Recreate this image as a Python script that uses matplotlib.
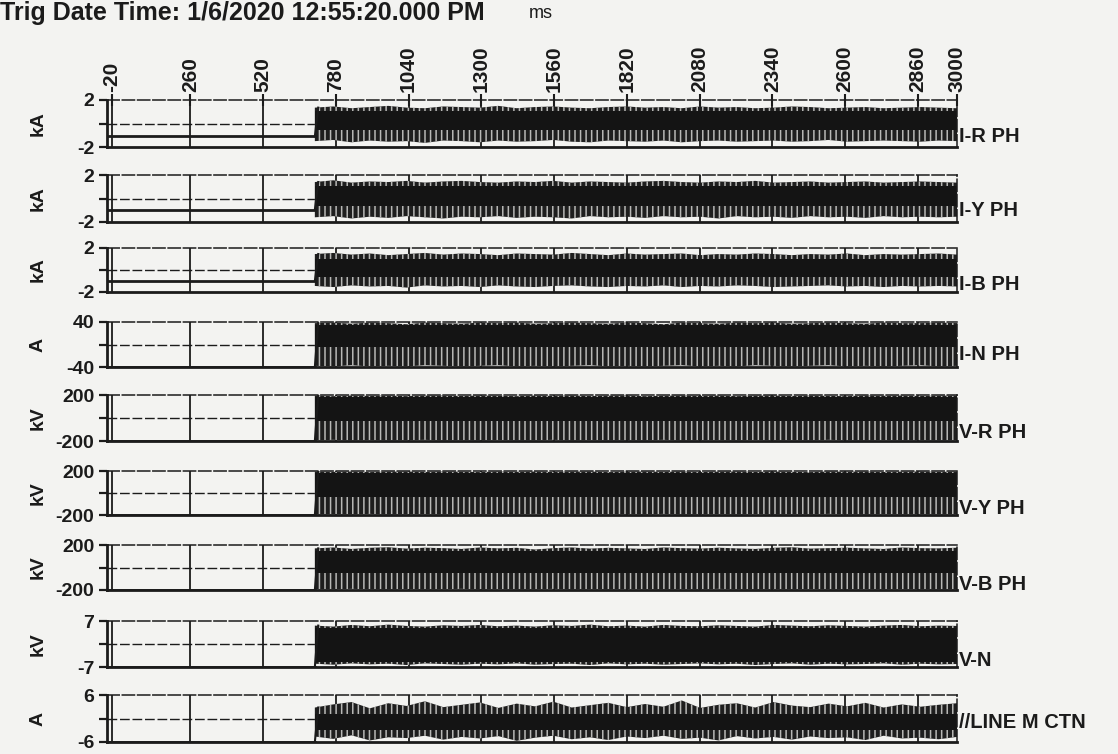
import matplotlib
matplotlib.use("Agg")
import matplotlib.pyplot as plt
import numpy as np

plt.rcParams["font.family"] = ["Liberation Sans", "DejaVu Sans"]
plt.rcParams["hatch.linewidth"] = 1.1

INK = "#1b1b1b"
PAPER = "#f3f3f1"

# time axis (ms)
TIME_TICKS = [-20, 260, 520, 780, 1040, 1300, 1560, 1820, 2080, 2340, 2600, 2860, 3000]
FAULT_START = 705

CHANNELS = ["I-R PH", "I-Y PH", "I-B PH", "I-N PH", "V-R PH", "V-Y PH", "V-B PH", "V-N", "//LINE M CTN"]
UNITS = ["kA", "kA", "kA", "A", "kV", "kV", "kV", "kV", "A"]
FULL_SCALE = [2, 2, 2, 40, 200, 200, 200, 7, 6]
BOTTOM_LABELS = ["-2", "-2", "-2", "-40", "-200", "-200", "-200", "-7", "-6"]
PRE_FAULT = [-1.1, -0.95, -1.0, -40, -200, -200, -200, -7, -6]

# dense core of the post-fault trace (solid black part)
CORE_HI = [1.05, 1.05, 1.0, 34, 180, 180, 150, 5.0, 1.1]
CORE_LO = [-0.55, -0.6, -0.6, -5, -30, -40, -45, -5.4, -3.0]

# envelope of the post-fault trace, read across the record
I_R_HI = [1.35, 1.45, 1.30, 1.40, 1.50, 1.35, 1.30, 1.45, 1.40, 1.35, 1.50, 1.30, 1.40, 1.45, 1.35, 1.30, 1.40, 1.45,
          1.35, 1.40, 1.30, 1.45, 1.35, 1.40, 1.30, 1.35, 1.45, 1.40, 1.30, 1.35, 1.40, 1.30, 1.35, 1.40, 1.35, 1.30]
I_R_LO = [-1.50, -1.40, -1.60, -1.45, -1.55, -1.50, -1.65, -1.45, -1.50, -1.60, -1.45, -1.55, -1.50, -1.40, -1.55,
          -1.60, -1.45, -1.50, -1.55, -1.45, -1.60, -1.50, -1.45, -1.55, -1.50, -1.45, -1.55, -1.50, -1.40, -1.55,
          -1.50, -1.45, -1.50, -1.55, -1.45, -1.50]
I_Y_HI = [1.40, 1.55, 1.35, 1.45, 1.40, 1.50, 1.35, 1.45, 1.50, 1.40, 1.35, 1.45, 1.40, 1.50, 1.35, 1.45, 1.40, 1.35,
          1.45, 1.50, 1.40, 1.35, 1.45, 1.40, 1.50, 1.35, 1.40, 1.45, 1.35, 1.40, 1.45, 1.35, 1.40, 1.45, 1.40, 1.35]
I_Y_LO = [-1.60, -1.50, -1.70, -1.55, -1.65, -1.50, -1.60, -1.70, -1.55, -1.60, -1.50, -1.65, -1.55, -1.60, -1.70,
          -1.50, -1.60, -1.55, -1.65, -1.50, -1.60, -1.55, -1.70, -1.50, -1.60, -1.55, -1.65, -1.50, -1.60, -1.55,
          -1.65, -1.50, -1.60, -1.55, -1.60, -1.55]
I_B_HI = [1.45, 1.55, 1.40, 1.50, 1.35, 1.45, 1.55, 1.40, 1.50, 1.45, 1.35, 1.50, 1.45, 1.40, 1.55, 1.45, 1.35, 1.50,
          1.40, 1.45, 1.50, 1.35, 1.45, 1.40, 1.50, 1.45, 1.35, 1.45, 1.40, 1.50, 1.35, 1.45, 1.40, 1.45, 1.50, 1.40]
I_B_LO = [-1.45, -1.55, -1.40, -1.50, -1.45, -1.60, -1.40, -1.50, -1.45, -1.55, -1.40, -1.50, -1.55, -1.45, -1.40,
          -1.50, -1.55, -1.45, -1.50, -1.40, -1.55, -1.45, -1.50, -1.40, -1.45, -1.55, -1.50, -1.45, -1.40, -1.50,
          -1.45, -1.55, -1.45, -1.50, -1.45, -1.50]
I_N_HI = [38, 39, 37, 39, 38, 36, 39, 38, 37, 39, 38, 39, 37, 38, 39, 38, 37, 39, 38, 36, 39, 38, 37, 39, 38, 39, 37,
          38, 39, 38, 37, 39, 38, 38, 39, 38]
I_N_LO = [-38, -39, -37, -39, -38, -39, -37, -38, -39, -38, -37, -39, -38, -39, -38, -37, -39, -38, -39, -38, -37, -39,
          -38, -39, -37, -38, -39, -38, -37, -39, -38, -39, -38, -37, -39, -38]
V_R_HI = [195, 190, 195, 192, 195, 190, 194, 195, 191, 195, 193, 190, 195, 192, 195, 191, 194, 195, 190, 193, 195, 192,
          195, 190, 194, 195, 191, 195, 192, 190, 195, 193, 195, 191, 194, 195]
V_R_LO = [-195, -190, -196, -192, -195, -194, -190, -196, -193, -195, -191, -195, -194, -190, -196, -192, -195, -193,
          -195, -190, -196, -194, -192, -195, -191, -196, -193, -195, -190, -194, -196, -192, -195, -193, -195, -194]
V_Y_HI = [195, 192, 195, 190, 194, 195, 191, 195, 193, 190, 195, 192, 195, 191, 194, 195, 190, 193, 195, 192, 195, 190,
          194, 195, 191, 195, 192, 190, 195, 193, 195, 191, 194, 195, 192, 195]
V_Y_LO = [-196, -193, -195, -190, -196, -194, -192, -195, -191, -196, -193, -195, -190, -194, -196, -192, -195, -193,
          -195, -190, -196, -194, -192, -195, -191, -196, -193, -195, -190, -194, -196, -192, -195, -193, -195, -194]
V_B_HI = [170, 178, 165, 175, 180, 168, 176, 172, 165, 178, 170, 175, 160, 172, 178, 168, 175, 170, 165, 178, 172, 168,
          176, 170, 165, 175, 180, 168, 172, 176, 170, 165, 178, 172, 170, 176]
V_B_LO = [-192, -195, -190, -194, -196, -191, -195, -193, -190, -196, -192, -195, -194, -190, -196, -193, -195, -191,
          -194, -196, -192, -195, -190, -194, -196, -193, -195, -191, -194, -196, -192, -195, -193, -194, -196, -195]
V_N_HI = [5.6, 5.3, 5.8, 5.4, 5.9, 5.5, 5.3, 5.7, 5.5, 5.8, 5.4, 5.6, 5.3, 5.7, 5.5, 5.9, 5.4, 5.6, 5.3, 5.8, 5.5, 5.4,
          5.7, 5.5, 5.3, 5.8, 5.6, 5.4, 5.7, 5.5, 5.3, 5.6, 5.8, 5.4, 5.6, 5.5]
V_N_LO = [-6.0, -6.3, -5.9, -6.2, -6.0, -6.4, -5.9, -6.1, -6.3, -6.0, -6.2, -5.9, -6.3, -6.1, -6.0, -6.4, -5.9, -6.2,
          -6.0, -6.3, -6.1, -5.9, -6.2, -6.0, -6.4, -6.1, -5.9, -6.3, -6.0, -6.2, -6.1, -5.9, -6.3, -6.0, -6.2, -6.1]
CTN_HI = [2.8, 3.6, 4.2, 2.6, 3.9, 3.2, 4.4, 2.9, 3.5, 4.1, 2.7, 3.8, 3.1, 4.3, 2.8, 3.4, 4.0, 2.9, 3.7, 3.0, 4.6, 2.7,
          3.5, 3.9, 2.8, 4.2, 3.3, 2.9, 3.8, 3.1, 4.0, 2.8, 3.6, 3.0, 3.5, 3.9]
CTN_LO = [-4.6, -5.2, -4.3, -5.6, -4.8, -5.0, -4.4, -5.4, -4.7, -5.1, -4.5, -5.7, -4.9, -4.4, -5.3, -4.8, -5.5, -4.6,
          -5.0, -4.4, -5.2, -4.9, -5.6, -4.5, -5.1, -4.7, -5.4, -4.6, -5.0, -4.8, -5.5, -4.4, -5.1, -4.9, -5.3, -4.7]

ENVELOPES = [(I_R_HI, I_R_LO), (I_Y_HI, I_Y_LO), (I_B_HI, I_B_LO), (I_N_HI, I_N_LO), (V_R_HI, V_R_LO),
             (V_Y_HI, V_Y_LO), (V_B_HI, V_B_LO), (V_N_HI, V_N_LO), (CTN_HI, CTN_LO)]

# panel frames in pixels (top, bottom) of the 1118x754 page
PANEL_PX = [(100, 147), (175, 222), (248, 292), (322, 367), (395, 441), (471, 515), (545, 590), (621, 667), (695, 742)]
LABEL_PX = [136, 211, 285, 355, 432, 509, 585, 661, 723]
W, H = 1118, 754
LEFT_PX, RIGHT_PX = 107, 957

fig = plt.figure(figsize=(W / 100, H / 100), dpi=100, facecolor=PAPER)

fig.text(0.0, 1 - 20 / H, "Trig Date Time: 1/6/2020 12:55:20.000 PM", fontsize=18, fontweight="bold",
         color=INK, va="baseline", ha="left")
fig.text(541 / W, 1 - 14 / H, "ms", fontsize=13, color=INK, ha="center", va="center")

x_left = -20 - 5 / ((RIGHT_PX - 112) / 3020)

for i, name in enumerate(CHANNELS):
    top, bot = PANEL_PX[i]
    ax = fig.add_axes([LEFT_PX / W, 1 - bot / H, (RIGHT_PX - LEFT_PX) / W, (bot - top) / H])
    ax.set_facecolor(PAPER)
    s = FULL_SCALE[i]
    ax.set_xlim(x_left, 3000)
    ax.set_ylim(-s, s)

    # grid
    ax.vlines(TIME_TICKS[:-1], -s, s, color=INK, linewidth=1.3, zorder=1)
    ax.axhline(0, color=INK, linewidth=1.0, linestyle=(0, (7, 2)), zorder=1)

    # pre-fault trace
    ax.plot([x_left, FAULT_START], [PRE_FAULT[i], PRE_FAULT[i]], color=INK, linewidth=2.0, zorder=3)

    # post-fault trace: streaky outer envelope plus solid core
    hi, lo = ENVELOPES[i]
    t = np.linspace(FAULT_START, 3000, len(hi))
    ax.fill_between(t, lo, hi, facecolor="#1e1e1e", edgecolor="#b8b8b6", hatch="|||", linewidth=0, zorder=2)
    ax.fill_between(t, [CORE_LO[i]] * len(t), [CORE_HI[i]] * len(t), color="#141414", linewidth=0, zorder=2)
    ax.plot([FAULT_START, FAULT_START + 12], [PRE_FAULT[i], hi[0]], color=INK, linewidth=1.5, zorder=3)

    for side in ("top", "right"):
        ax.spines[side].set_linewidth(1.1)
        ax.spines[side].set_linestyle((0, (8, 2)))
        ax.spines[side].set_color(INK)
    for side in ("left", "bottom"):
        ax.spines[side].set_linewidth(2.0)
        ax.spines[side].set_color(INK)

    ax.set_yticks([-s, 0, s], [BOTTOM_LABELS[i], "", str(s)])
    ax.tick_params(axis="y", direction="out", length=6, width=1.6, labelsize=14, colors=INK, pad=3)
    for lab in ax.get_yticklabels():
        lab.set_fontweight("bold")

    if i == 0:
        ax.xaxis.tick_top()
        ax.set_xticks(TIME_TICKS, [str(v) for v in TIME_TICKS])
        ax.tick_params(axis="x", direction="inout", length=8, width=1.5, labelsize=15,
                       labelrotation=90, colors=INK, pad=2)
        for lab in ax.get_xticklabels():
            lab.set_fontweight("bold")
    else:
        ax.set_xticks([])

    fig.text(38 / W, 1 - (top + bot) / 2 / H, UNITS[i], rotation=90, fontsize=14, fontweight="bold",
             color=INK, ha="center", va="center")
    fig.text((RIGHT_PX + 2) / W, 1 - LABEL_PX[i] / H, name, fontsize=14.5, fontweight="bold", color=INK,
             ha="left", va="center")

fig.savefig("out.png", dpi=100, facecolor=PAPER)
